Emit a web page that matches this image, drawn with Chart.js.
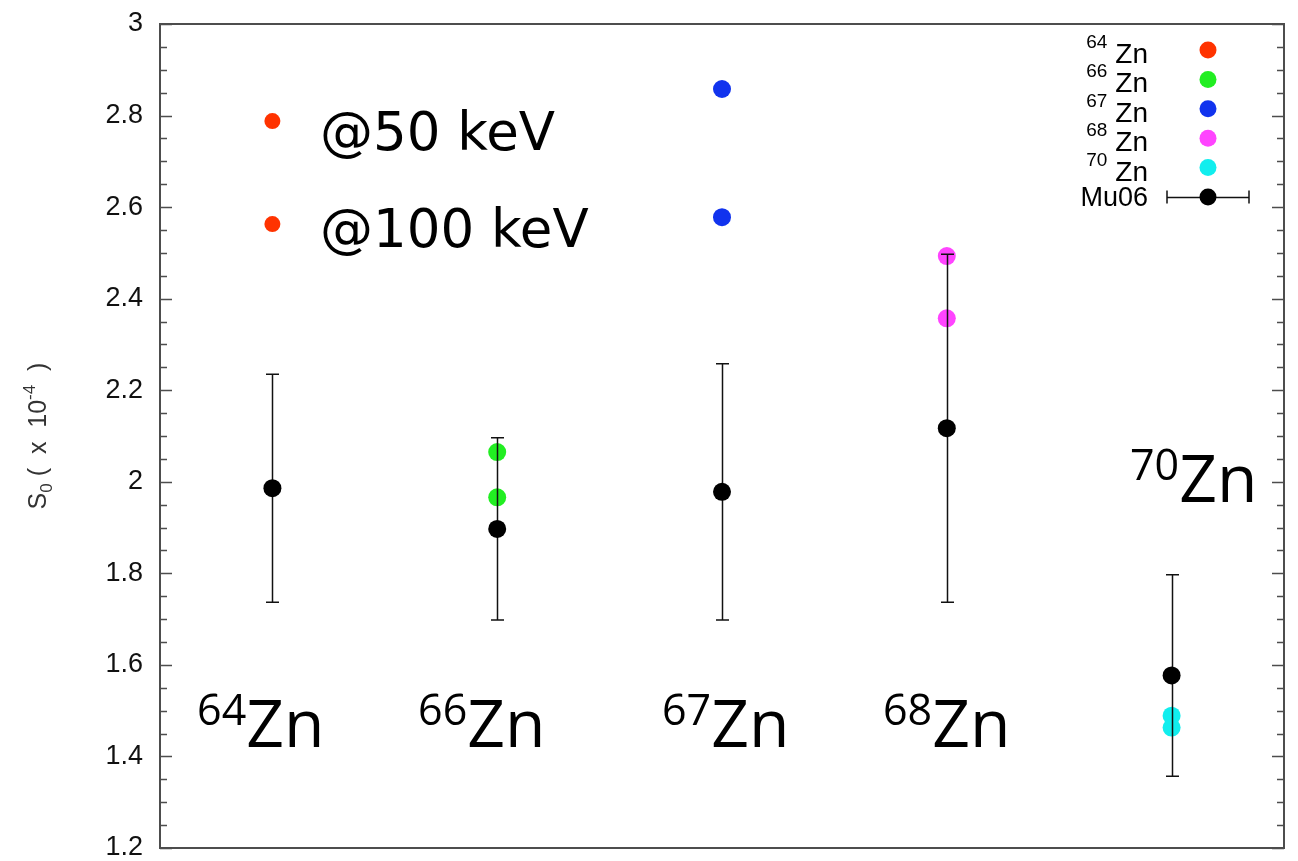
<!DOCTYPE html>
<html>
<head>
<meta charset="utf-8">
<script src="https://cdn.jsdelivr.net/npm/chart.js@4.4.0/dist/chart.umd.min.js"></script>
<style>
  html, body { margin: 0; padding: 0; background: #fff; }
  #wrap { width: 1298px; height: 861px; }
</style>
</head>
<body>
<div id="wrap"><canvas id="s0Chart"></canvas></div>
<script>
// isotopes and their slot on the x axis
const isotopes = ['64', '66', '67', '68', '70'];
const xPos = [0.5, 1.5, 2.5, 3.5, 4.5];
const isoColors = ['#ff3300', '#22ee22', '#1133ee', '#ff44ff', '#11eeee'];

// calculated S0 (x 1e-4) at 50 keV and 100 keV
const s0At50 = [2.788, 2.065, 2.858, 2.493, 1.489];
const s0At100 = [2.563, 1.966, 2.578, 2.357, 1.463];

// Mu06 evaluation with uncertainty
const mu06 = [1.986, 1.897, 1.978, 2.117, 1.577];
const mu06Err = [0.249, 0.199, 0.280, 0.380, 0.220];

// y axis
const yMin = 1.2, yMax = 3, yStep = 0.2;

// annotation anchors (data coords) - isotope names and energy notes
const isoLabelAt = [
  { x: 0.165, y: 1.421 }, { x: 1.148, y: 1.421 }, { x: 2.233, y: 1.421 },
  { x: 3.216, y: 1.421 }, { x: 4.315, y: 1.956 }
];
const energyNotes = ['@50 keV', '@100 keV'];
const energyNoteAt = [{ x: 0.712, y: 2.725 }, { x: 0.712, y: 2.513 }];

const AXIS = '#4d4d4d';

// 📌 frame + inward major/minor ticks on left and right
const framePlugin = {
  id: 'frame',
  afterDraw(chart) {
    const { ctx, chartArea: a, scales: { y } } = chart;
    ctx.save();
    ctx.strokeStyle = AXIS;
    ctx.lineWidth = 2;
    ctx.strokeRect(a.left, a.top, a.right - a.left, a.bottom - a.top);
    ctx.lineWidth = 1.5;
    const tick = (v, len) => {
      const py = Math.round(y.getPixelForValue(v)) + 0.5;
      ctx.beginPath();
      ctx.moveTo(a.left, py); ctx.lineTo(a.left + len, py);
      ctx.moveTo(a.right, py); ctx.lineTo(a.right - len, py);
      ctx.stroke();
    };
    const vals = y.ticks.map(t => t.value);
    vals.forEach((v, i) => {
      tick(v, 12);
      if (i < vals.length - 1) {
        const d = (vals[i + 1] - v) / 4;
        for (let k = 1; k < 4; k++) tick(v + k * d, 7);
      }
    });
    ctx.restore();
  }
};

// 📌 vertical error bars for Mu06, drawn just before its points
const errorBarPlugin = {
  id: 'errbars',
  beforeDatasetDraw(chart, args) {
    if (args.meta.label !== 'Mu06') return;
    const { ctx, scales: { x, y } } = chart;
    ctx.save();
    ctx.strokeStyle = '#111';
    ctx.lineWidth = 1.5;
    mu06.forEach((v, i) => {
      const px = Math.round(x.getPixelForValue(xPos[i])) + 0.5;
      const top = y.getPixelForValue(v + mu06Err[i]);
      const bot = y.getPixelForValue(v - mu06Err[i]);
      ctx.beginPath();
      ctx.moveTo(px, top); ctx.lineTo(px, bot);
      ctx.moveTo(px - 6.5, top); ctx.lineTo(px + 6.5, top);
      ctx.moveTo(px - 6.5, bot); ctx.lineTo(px + 6.5, bot);
      ctx.stroke();
    });
    ctx.restore();
  }
};

// draws base text with a raised prefix
function supText(ctx, x, y, sup, main, supFont, mainFont, rise) {
  ctx.font = supFont;
  ctx.fillText(sup, x, y - rise);
  const w = ctx.measureText(sup).width;
  ctx.font = mainFont;
  ctx.fillText(main, x + w, y);
}

// 📌 texts inside the plot, legend, y axis title
const textPlugin = {
  id: 'texts',
  afterDraw(chart) {
    const { ctx, chartArea: a, scales: { x, y } } = chart;
    ctx.save();
    ctx.fillStyle = '#000';
    ctx.textBaseline = 'alphabetic';
    ctx.textAlign = 'left';

    // isotope names
    isotopes.forEach((iso, i) => {
      const p = isoLabelAt[i];
      supText(ctx, x.getPixelForValue(p.x), y.getPixelForValue(p.y), iso, 'Zn',
        '43px "Open Sans"', '66px "Open Sans"', 22);
    });

    // energy notes
    ctx.font = '53px "DejaVu Sans"';
    energyNotes.forEach((t, i) => {
      const p = energyNoteAt[i];
      ctx.fillText(t, x.getPixelForValue(p.x), y.getPixelForValue(p.y));
    });

    // legend box (top right)
    const mx = a.right - 76;
    const row0 = a.top + 26;
    const rowH = 29.4;
    isotopes.forEach((iso, i) => {
      const ry = row0 + i * rowH;
      ctx.fillStyle = '#000';
      ctx.textAlign = 'right';
      ctx.font = '28px "Liberation Sans"';
      const zw = ctx.measureText('Zn').width;
      ctx.fillText('Zn', a.right - 136, ry + 13);
      ctx.font = '19px "Liberation Sans"';
      ctx.fillText(iso, a.right - 136 - zw - 8, ry - 2);
      ctx.fillStyle = isoColors[i];
      ctx.beginPath();
      ctx.arc(mx, ry, 8.5, 0, Math.PI * 2);
      ctx.fill();
    });
    const my = row0 + 5 * rowH;
    ctx.fillStyle = '#000';
    ctx.textAlign = 'right';
    ctx.font = '27px "Liberation Sans"';
    ctx.fillText('Mu06', a.right - 136, my + 9);
    ctx.strokeStyle = '#111';
    ctx.lineWidth = 1.5;
    ctx.beginPath();
    ctx.moveTo(mx - 41, my + 0.5); ctx.lineTo(mx + 41, my + 0.5);
    ctx.moveTo(mx - 41, my - 6.5); ctx.lineTo(mx - 41, my + 6.5);
    ctx.moveTo(mx + 41, my - 6.5); ctx.lineTo(mx + 41, my + 6.5);
    ctx.stroke();
    ctx.beginPath();
    ctx.arc(mx, my, 8.5, 0, Math.PI * 2);
    ctx.fill();

    // y axis title: S0 ( x 10-4 )
    const parts = [
      ['S', 25, 0], ['0', 17, 6], [' (  ', 25, 0], ['x', 25, 0], ['  10', 25, 0], ['-4', 17, -11], ['  )', 25, 0]
    ];
    ctx.fillStyle = '#333';
    ctx.textAlign = 'left';
    let total = 0;
    parts.forEach(p => { ctx.font = p[1] + 'px "Liberation Sans"'; total += ctx.measureText(p[0]).width; });
    ctx.translate(46, (a.top + a.bottom) / 2);
    ctx.rotate(-Math.PI / 2);
    let cx = -total / 2;
    parts.forEach(p => {
      ctx.font = p[1] + 'px "Liberation Sans"';
      ctx.fillText(p[0], cx, p[2]);
      cx += ctx.measureText(p[0]).width;
    });
    ctx.restore();
  }
};

const datasets = isotopes.map((iso, i) => ({
  label: iso + 'Zn',
  data: [{ x: xPos[i], y: s0At50[i] }, { x: xPos[i], y: s0At100[i] }],
  backgroundColor: isoColors[i],
  borderWidth: 0,
  pointRadius: i === 0 ? 8 : 9,
  order: 1
}));
datasets.push({
  label: 'Mu06',
  data: mu06.map((v, i) => ({ x: xPos[i], y: v })),
  backgroundColor: '#000',
  borderWidth: 0,
  pointRadius: 9,
  order: 0
});

new Chart(document.getElementById('s0Chart'), {
  type: 'scatter',
  data: { datasets },
  options: {
    responsive: true,
    maintainAspectRatio: false,
    animation: false,
    events: [],
    layout: { padding: { top: 24, right: 14, bottom: 13, left: 0 } },
    plugins: { legend: { display: false }, tooltip: { enabled: false } },
    scales: {
      x: { type: 'linear', min: 0, max: 5, display: false },
      y: {
        min: yMin,
        max: yMax,
        border: { display: false },
        grid: { display: false, drawTicks: false },
        ticks: {
          stepSize: yStep,
          padding: 17,
          color: '#111',
          font: { family: '"Liberation Sans", Arial', size: 27 },
          callback: v => String(Math.round(v * 10) / 10)
        },
        afterFit: s => {
          s.width = 160;
          s.paddingTop = 0;
          s.paddingBottom = 0;
        }
      }
    }
  },
  plugins: [framePlugin, errorBarPlugin, textPlugin]
});
</script>
</body>
</html>
